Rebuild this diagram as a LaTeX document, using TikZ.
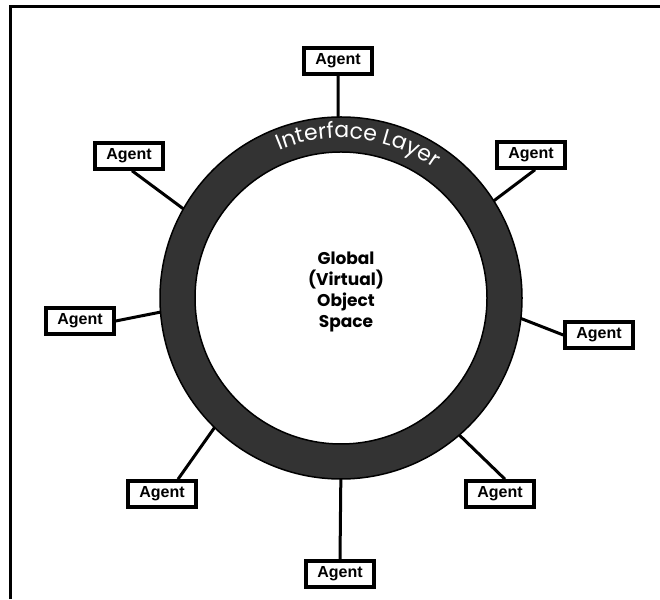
\documentclass[tikz,border=0pt]{standalone}
\usepackage{fontspec}
\setmainfont{Liberation Sans}
\newfontfamily\ringfont{Poppins}
\usetikzlibrary{decorations.text}

\begin{document}
\begin{tikzpicture}[x=1pt,y=1pt,
  agent/.style={draw,line width=3.5pt,fill=white,minimum width=68pt,minimum height=26pt,inner sep=0pt,font=\fontsize{16}{18}\selectfont\bfseries},
  link/.style={line width=3pt},
  ringband/.style={fill=black!80,draw=black,line width=1.5pt,even odd rule}]
  \useasboundingbox (0,0) rectangle (660,599);
  % Frame
  \path[draw,line width=3pt] (10,0) -- (10,592) -- (660,592);

  % Centre of the layer and where the links meet it
  \coordinate (c) at (341,301);
  \coordinate (r-n) at ([shift={(91:165)}]c);
  \coordinate (r-ne) at ([shift={(32:165)}]c);
  \coordinate (r-e) at ([shift={(-5:165)}]c);
  \coordinate (r-se) at ([shift={(-49.7:165)}]c);
  \coordinate (r-s) at ([shift={(-90:165)}]c);
  \coordinate (r-sw) at ([shift={(224.8:165)}]c);
  \coordinate (r-w) at ([shift={(183.8:165)}]c);
  \coordinate (r-nw) at ([shift={(151.2:165)}]c);

  % Agents
  \node[agent] (a-n) at (338,538) {Agent};
  \node[agent] (a-ne) at (531,444) {Agent};
  \node[agent] (a-e) at (599,264) {Agent};
  \node[agent] (a-se) at (500,105) {Agent};
  \node[agent] (a-s) at (340,25) {Agent};
  \node[agent] (a-sw) at (162,105) {Agent};
  \node[agent] (a-w) at (80,278) {Agent};
  \node[agent] (a-nw) at (129,443) {Agent};

  % Links, under the ring
  \path[draw,link] (a-n.south) -- (r-n);
  \path[draw,link] ([xshift=4pt]a-ne.south) -- (r-ne);
  \path[draw,link] (a-e.west) -- (r-e);
  \path[draw,link] ([xshift=5pt]a-se.north) -- (r-se);
  \path[draw,link] (a-s.north) -- (r-s);
  \path[draw,link] ([xshift=16pt]a-sw.north) -- (r-sw);
  \path[draw,link] (a-w.east) -- (r-w);
  \path[draw,link] ([xshift=3pt]a-nw.south) -- (r-nw);

  % Interface layer
  \path[ringband] (c) circle[radius=181] (c) circle[radius=146];
  \path[decorate,decoration={text along path,text align=center,
    text={|\ringfont\fontsize{22}{22}\selectfont\color{white}|Interface Layer}}]
    ([shift={(123.5:160)}]c) arc[start angle=123.5,end angle=43.5,radius=160];

  % Object space
  \node[font=\ringfont\bfseries\fontsize{17}{21}\selectfont,align=center] (space) at (346,307) {Global\\(Virtual)\\Object\\Space};
\end{tikzpicture}
\end{document}
